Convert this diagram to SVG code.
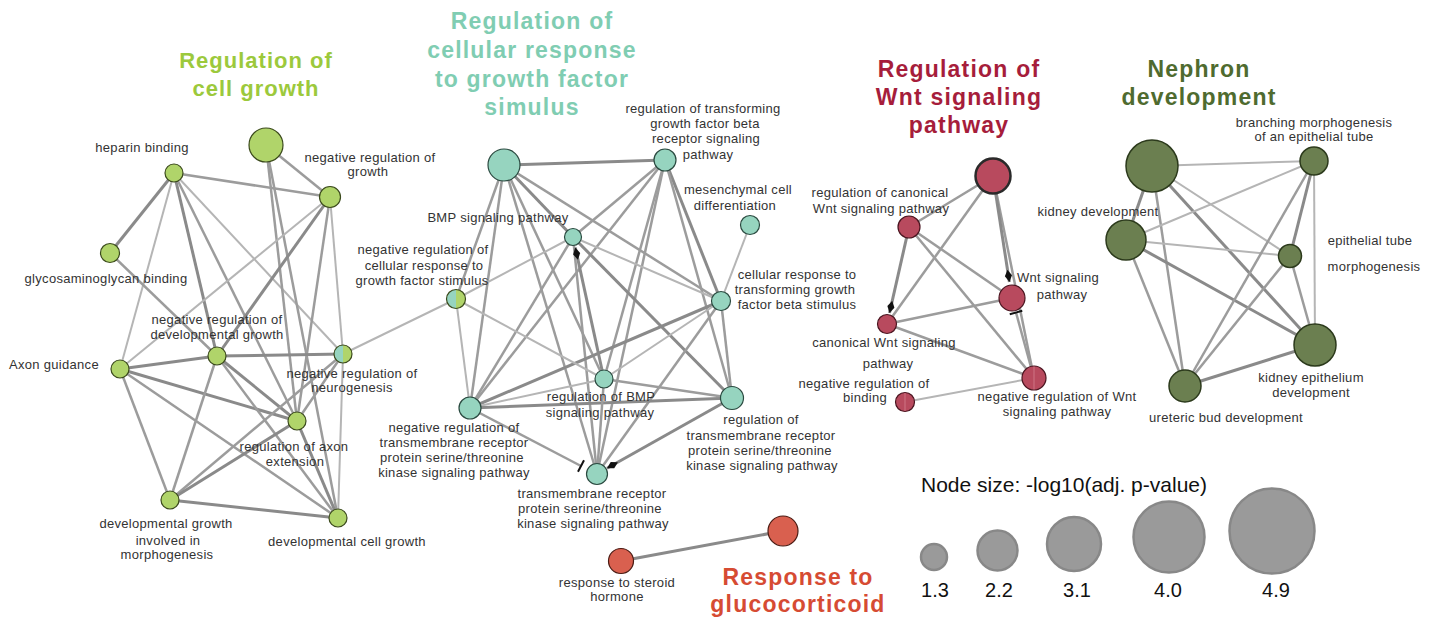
<svg xmlns="http://www.w3.org/2000/svg" width="1436" height="619" viewBox="0 0 1436 619">
<style>
.l{stroke:#b5b5b5;stroke-width:2;fill:none}
.m{stroke:#9c9c9c;stroke-width:2.5;fill:none}
.d{stroke:#8a8a8a;stroke-width:3;fill:none}
.lb{font-family:"Liberation Sans",Arial,sans-serif;font-size:13px;letter-spacing:0.3px;fill:#333;text-anchor:middle}
.tt{font-family:"Liberation Sans",Arial,sans-serif;font-weight:bold;font-size:23px;letter-spacing:1.2px;text-anchor:middle}
.gA{fill:#b0d46a;stroke:#3b4a1c;stroke-width:1.2}
.tA{fill:#96d4bf;stroke:#2b4a40;stroke-width:1.2}
.rA{fill:#b84a5e;stroke:#4a1520;stroke-width:1.2}
.nA{fill:#6b7f50;stroke:#2c3a1c;stroke-width:1.5}
.oA{fill:#d9604f;stroke:#4a1a12;stroke-width:1.2}
.lg{fill:#9a9a9a;stroke:#888;stroke-width:2.5}
.lt{font-family:"Liberation Sans",Arial,sans-serif;font-size:20px;fill:#111;text-anchor:middle}
</style>
<defs>
<marker id="dia" viewBox="0 -4 13 8" refX="12.5" refY="0" markerWidth="13" markerHeight="8" markerUnits="userSpaceOnUse" orient="auto"><path d="M0,0 L6.2,-3.6 L12.5,0 L6.2,3.6 Z" fill="#111"/></marker>
<marker id="tee" viewBox="-2 -8 4 16" refX="0" refY="0" markerWidth="4" markerHeight="16" markerUnits="userSpaceOnUse" orient="auto"><path d="M0,-6.5 L0,6.5" stroke="#111" stroke-width="2"/></marker>
</defs>

<!-- titles -->
<g id="titles">
<text class="tt" x="256" y="68" fill="#9cc93c" style="font-size:22px;letter-spacing:1px">Regulation of</text>
<text class="tt" x="256" y="96" fill="#9cc93c" style="font-size:22px;letter-spacing:1px">cell growth</text>
<text class="tt" x="532" y="29" fill="#80cdb2">Regulation of</text>
<text class="tt" x="532" y="58" fill="#80cdb2">cellular response</text>
<text class="tt" x="532" y="87" fill="#80cdb2">to growth factor</text>
<text class="tt" x="532" y="115" fill="#80cdb2">simulus</text>
<text class="tt" x="959" y="77" fill="#a61d3b">Regulation of</text>
<text class="tt" x="959" y="105" fill="#a61d3b">Wnt signaling</text>
<text class="tt" x="959" y="133" fill="#a61d3b">pathway</text>
<text class="tt" x="1199" y="77" fill="#4f6b2f">Nephron</text>
<text class="tt" x="1199" y="105" fill="#4f6b2f">development</text>
<text class="tt" x="798" y="585" fill="#d64b33">Response to</text>
<text class="tt" x="798" y="612" fill="#d64b33">glucocorticoid</text>
</g>

<!-- connectors -->
<g id="connectors">
<!-- cluster 1 -->
<line class="d" x1="174" y1="173" x2="110" y2="253"/>
<line class="m" x1="174" y1="173" x2="330" y2="197"/>
<line class="l" x1="174" y1="173" x2="120" y2="369"/>
<line class="d" x1="174" y1="173" x2="217" y2="356"/>
<line class="m" x1="174" y1="173" x2="297" y2="421"/>
<line class="l" x1="174" y1="173" x2="343" y2="354"/>
<line class="m" x1="266" y1="145" x2="330" y2="197"/>
<line class="m" x1="266" y1="145" x2="297" y2="421"/>
<line class="m" x1="266" y1="145" x2="338" y2="518"/>
<line class="l" x1="330" y1="197" x2="120" y2="369"/>
<line class="d" x1="330" y1="197" x2="217" y2="356"/>
<line class="m" x1="330" y1="197" x2="297" y2="421"/>
<line class="l" x1="330" y1="197" x2="343" y2="354"/>
<line class="m" x1="110" y1="253" x2="217" y2="356"/>
<line class="d" x1="120" y1="369" x2="217" y2="356"/>
<line class="d" x1="120" y1="369" x2="297" y2="421"/>
<line class="m" x1="120" y1="369" x2="338" y2="518"/>
<line class="m" x1="120" y1="369" x2="170" y2="500"/>
<line class="d" x1="217" y1="356" x2="343" y2="354"/>
<line class="d" x1="217" y1="356" x2="297" y2="421"/>
<line class="m" x1="217" y1="356" x2="338" y2="518"/>
<line class="m" x1="217" y1="356" x2="170" y2="500"/>
<line class="m" x1="343" y1="354" x2="170" y2="500"/>
<line class="m" x1="343" y1="354" x2="297" y2="421"/>
<line class="l" x1="343" y1="354" x2="338" y2="518"/>
<line class="d" x1="297" y1="421" x2="170" y2="500"/>
<line class="d" x1="297" y1="421" x2="338" y2="518"/>
<line class="d" x1="170" y1="500" x2="338" y2="518"/>
<line class="l" x1="343" y1="354" x2="456" y2="299"/>
<!-- cluster 2 -->
<line class="d" x1="504" y1="165" x2="665" y2="160"/>
<line class="d" x1="504" y1="165" x2="573" y2="237"/>
<line class="m" x1="504" y1="165" x2="721" y2="301"/>
<line class="m" x1="504" y1="165" x2="604" y2="379"/>
<line class="m" x1="504" y1="165" x2="597" y2="474"/>
<line class="m" x1="504" y1="165" x2="470" y2="408"/>
<line class="m" x1="504" y1="165" x2="456" y2="299"/>
<line class="m" x1="665" y1="160" x2="573" y2="237"/>
<line class="m" x1="665" y1="160" x2="470" y2="408"/>
<line class="m" x1="665" y1="160" x2="604" y2="379"/>
<line class="m" x1="665" y1="160" x2="597" y2="474"/>
<line class="d" x1="665" y1="160" x2="721" y2="301"/>
<line class="m" x1="665" y1="160" x2="732" y2="398"/>
<line class="l" x1="750" y1="225" x2="721" y2="301"/>
<line class="l" x1="573" y1="237" x2="721" y2="301"/>
<line class="d" x1="573" y1="237" x2="732" y2="398"/>
<line class="m" x1="573" y1="237" x2="470" y2="408"/>
<line class="m" x1="573" y1="237" x2="597" y2="474"/>
<line class="l" x1="573" y1="237" x2="456" y2="299"/>
<line class="d" x1="721" y1="301" x2="470" y2="408"/>
<line class="l" x1="721" y1="301" x2="604" y2="379"/>
<line class="m" x1="721" y1="301" x2="732" y2="398"/>
<line class="m" x1="721" y1="301" x2="597" y2="474"/>
<line class="l" x1="470" y1="408" x2="604" y2="379"/>
<line class="d" x1="470" y1="408" x2="732" y2="398"/>
<line class="l" x1="470" y1="408" x2="456" y2="299"/>
<line class="m" x1="604" y1="379" x2="732" y2="398"/>
<line class="m" x1="604" y1="379" x2="597" y2="474"/>
<line class="l" x1="456" y1="299" x2="604" y2="379"/>
<path class="d" d="M604,379 L575.3,247.5" marker-end="url(#dia)"/>
<path class="d" d="M732,398 L607,468.3" marker-end="url(#dia)"/>
<path class="m" d="M470,408 L581,466" marker-end="url(#tee)"/>
<!-- cluster 3 -->
<line class="m" x1="993" y1="176" x2="909" y2="227"/>
<line class="m" x1="993" y1="176" x2="887" y2="324"/>
<line class="m" x1="993" y1="176" x2="1034" y2="378"/>
<line class="m" x1="909" y1="227" x2="1012" y2="298"/>
<line class="m" x1="909" y1="227" x2="1034" y2="378"/>
<line class="m" x1="887" y1="324" x2="1012" y2="298"/>
<line class="m" x1="887" y1="324" x2="1034" y2="378"/>
<line class="l" x1="905" y1="402" x2="1034" y2="378"/>
<path class="d" d="M993,176 L1009.4,282" marker-end="url(#dia)"/>
<path class="d" d="M909,227 L889.5,313" marker-end="url(#dia)"/>
<path class="m" d="M1034,378 L1016,312.5" marker-end="url(#tee)"/>
<!-- cluster 4 -->
<line class="l" x1="1152" y1="166" x2="1314" y2="161"/>
<line class="d" x1="1152" y1="166" x2="1126" y2="240"/>
<line class="l" x1="1152" y1="166" x2="1290" y2="256"/>
<line class="d" x1="1152" y1="166" x2="1315" y2="345"/>
<line class="m" x1="1152" y1="166" x2="1185" y2="386"/>
<line class="l" x1="1126" y1="240" x2="1314" y2="161"/>
<line class="l" x1="1126" y1="240" x2="1290" y2="256"/>
<line class="d" x1="1126" y1="240" x2="1315" y2="345"/>
<line class="m" x1="1126" y1="240" x2="1185" y2="386"/>
<line class="d" x1="1314" y1="161" x2="1290" y2="256"/>
<line class="l" x1="1314" y1="161" x2="1315" y2="345"/>
<line class="m" x1="1314" y1="161" x2="1185" y2="386"/>
<line class="m" x1="1290" y1="256" x2="1315" y2="345"/>
<line class="m" x1="1290" y1="256" x2="1185" y2="386"/>
<line class="d" x1="1185" y1="386" x2="1315" y2="345"/>
<!-- cluster 5 -->
<line class="d" x1="621" y1="561" x2="783" y2="531"/>
</g>

<!-- cluster 1 nodes -->
<g id="n-big-green"><circle class="gA" cx="266" cy="145" r="17"/></g>
<g id="n-heparin"><circle class="gA" cx="174" cy="173" r="9"/><text class="lb" x="142" y="152">heparin binding</text></g>
<g id="n-negreg-growth"><circle class="gA" cx="330" cy="197" r="10.5"/><text class="lb" x="370" y="162">negative regulation of</text><text class="lb" x="368" y="176">growth</text></g>
<g id="n-glyco"><circle class="gA" cx="110" cy="253" r="9.5"/><text class="lb" x="106" y="283">glycosaminoglycan binding</text></g>
<g id="n-negreg-devgrowth"><circle class="gA" cx="217" cy="356" r="9"/><text class="lb" x="217" y="324">negative regulation of</text><text class="lb" x="217" y="339">developmental growth</text></g>
<g id="n-axon-guidance"><circle class="gA" cx="120" cy="369" r="9"/><text class="lb" x="54" y="369">Axon guidance</text></g>
<g id="n-negreg-neurogenesis"><path d="M343,345 A9,9 0 0 0 343,363 Z" fill="#96d4bf"/><path d="M343,345 A9,9 0 0 1 343,363 Z" fill="#b0d46a"/><circle cx="343" cy="354" r="9" fill="none" stroke="#3b4a1c" stroke-width="1.2"/><text class="lb" x="352" y="378">negative regulation of</text><text class="lb" x="352" y="392">neurogenesis</text></g>
<g id="n-axon-extension"><circle class="gA" cx="297" cy="421" r="9"/><text class="lb" x="294" y="451">regulation of axon</text><text class="lb" x="295" y="466">extension</text></g>
<g id="n-devgrowth-morph"><circle class="gA" cx="170" cy="500" r="9"/><text class="lb" x="166" y="528">developmental growth</text><text class="lb" x="168" y="545">involved in</text><text class="lb" x="167" y="559">morphogenesis</text></g>
<g id="n-dev-cell-growth"><circle class="gA" cx="338" cy="518" r="9"/><text class="lb" x="347" y="546">developmental cell growth</text></g>

<!-- cluster 2 nodes -->
<g id="n-big-teal"><circle class="tA" cx="504" cy="165" r="16"/></g>
<g id="n-reg-tgfb-receptor"><circle class="tA" cx="665" cy="160" r="11"/><text class="lb" x="703" y="113">regulation of transforming</text><text class="lb" x="705" y="128">growth factor beta</text><text class="lb" x="706" y="143">receptor signaling</text><text class="lb" x="708" y="159">pathway</text></g>
<g id="n-bmp"><circle class="tA" cx="573" cy="237" r="8.5"/><text class="lb" x="498" y="222">BMP signaling pathway</text></g>
<g id="n-mesenchymal"><circle class="tA" cx="750" cy="225" r="9.5"/><text class="lb" x="738" y="194">mesenchymal cell</text><text class="lb" x="735" y="210">differentiation</text></g>
<g id="n-negreg-cellresp"><path d="M456,289.5 A9.5,9.5 0 0 0 456,308.5 Z" fill="#96d4bf"/><path d="M456,289.5 A9.5,9.5 0 0 1 456,308.5 Z" fill="#b0d46a"/><circle cx="456" cy="299" r="9.5" fill="none" stroke="#3b4a1c" stroke-width="1.2"/><text class="lb" x="423" y="254">negative regulation of</text><text class="lb" x="424" y="270">cellular response to</text><text class="lb" x="422" y="285">growth factor stimulus</text></g>
<g id="n-cellresp-tgfb"><circle class="tA" cx="721" cy="301" r="9.5"/><text class="lb" x="797" y="279">cellular response to</text><text class="lb" x="795" y="294">transforming growth</text><text class="lb" x="797" y="309">factor beta stimulus</text></g>
<g id="n-reg-bmp"><circle class="tA" cx="604" cy="379" r="9"/><text class="lb" x="601" y="401">regulation of BMP</text><text class="lb" x="600" y="417">signaling pathway</text></g>
<g id="n-negreg-tm"><circle class="tA" cx="470" cy="408" r="11"/><text class="lb" x="454" y="432">negative regulation of</text><text class="lb" x="454" y="447">transmembrane receptor</text><text class="lb" x="452" y="462">protein serine/threonine</text><text class="lb" x="454" y="477">kinase signaling pathway</text></g>
<g id="n-reg-tm"><circle class="tA" cx="732" cy="398" r="11.5"/><text class="lb" x="761" y="424">regulation of</text><text class="lb" x="761" y="440">transmembrane receptor</text><text class="lb" x="760" y="455">protein serine/threonine</text><text class="lb" x="762" y="470">kinase signaling pathway</text></g>
<g id="n-tm"><circle class="tA" cx="597" cy="474" r="10.5"/><text class="lb" x="592" y="498">transmembrane receptor</text><text class="lb" x="590" y="513">protein serine/threonine</text><text class="lb" x="593" y="528">kinase signaling pathway</text></g>

<!-- cluster 3 nodes -->
<g id="n-big-red"><circle class="rA" cx="993" cy="176" r="17.5" style="stroke:#2a2a2a;stroke-width:2.5"/></g>
<g id="n-reg-canonical"><circle class="rA" cx="909" cy="227" r="11"/><text class="lb" x="880" y="197">regulation of canonical</text><text class="lb" x="881" y="213">Wnt signaling pathway</text></g>
<g id="n-wnt"><circle class="rA" cx="1012" cy="298" r="13"/><text class="lb" x="1058" y="282">Wnt signaling</text><text class="lb" x="1062" y="299">pathway</text></g>
<g id="n-canonical"><circle class="rA" cx="887" cy="324" r="9.5"/><text class="lb" x="884" y="347">canonical Wnt signaling</text><text class="lb" x="888" y="368">pathway</text></g>
<g id="n-negreg-binding"><circle class="rA" cx="905" cy="402" r="9.5"/><line x1="905" y1="393" x2="905" y2="411" stroke="#d48090" stroke-width="0.8"/><text class="lb" x="864" y="388">negative regulation of</text><text class="lb" x="865" y="402">binding</text></g>
<g id="n-negreg-wnt"><circle class="rA" cx="1034" cy="378" r="12"/><line x1="1034" y1="366.5" x2="1034" y2="389.5" stroke="#d48090" stroke-width="0.8"/><text class="lb" x="1057" y="401">negative regulation of Wnt</text><text class="lb" x="1057" y="416">signaling pathway</text></g>

<!-- cluster 4 nodes -->
<g id="n-big-nephron"><circle class="nA" cx="1152" cy="166" r="26"/></g>
<g id="n-branching"><circle class="nA" cx="1314" cy="161" r="14"/><text class="lb" x="1314" y="127">branching morphogenesis</text><text class="lb" x="1314" y="141">of an epithelial tube</text></g>
<g id="n-kidney-dev"><circle class="nA" cx="1126" cy="240" r="20"/><text class="lb" x="1098" y="216">kidney development</text></g>
<g id="n-epi-tube"><circle class="nA" cx="1290" cy="256" r="11.5"/><text class="lb" x="1370" y="245">epithelial tube</text><text class="lb" x="1374" y="271">morphogenesis</text></g>
<g id="n-kidney-epi"><circle class="nA" cx="1315" cy="345" r="21"/><text class="lb" x="1311" y="382">kidney epithelium</text><text class="lb" x="1311" y="397">development</text></g>
<g id="n-ureteric"><circle class="nA" cx="1185" cy="386" r="16"/><text class="lb" x="1226" y="422">ureteric bud development</text></g>

<!-- cluster 5 nodes -->
<g id="n-steroid"><circle class="oA" cx="621" cy="561" r="12.5"/><text class="lb" x="617" y="587">response to steroid</text><text class="lb" x="617" y="601">hormone</text></g>
<g id="n-glucocorticoid"><circle class="oA" cx="783" cy="531" r="15"/></g>

<!-- legend -->
<g id="legend">
<text class="lt" x="1064" y="492" style="font-size:21px">Node size: -log10(adj. p-value)</text>
<circle class="lg" cx="934" cy="557" r="13"/>
<circle class="lg" cx="997.5" cy="550.5" r="20"/>
<circle class="lg" cx="1074" cy="544" r="27"/>
<circle class="lg" cx="1169" cy="537" r="35.5"/>
<circle class="lg" cx="1272" cy="531" r="42.5"/>
<text class="lt" x="935" y="597">1.3</text>
<text class="lt" x="999" y="597">2.2</text>
<text class="lt" x="1077" y="597">3.1</text>
<text class="lt" x="1168" y="597">4.0</text>
<text class="lt" x="1276" y="597">4.9</text>
</g>
</svg>
